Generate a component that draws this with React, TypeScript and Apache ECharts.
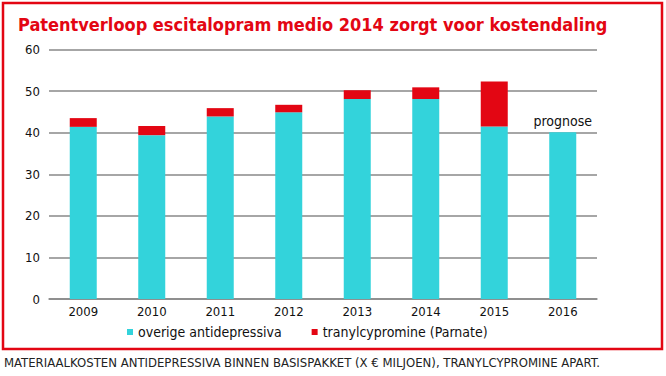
import React, { useEffect, useRef } from "react";
import * as echarts from "echarts";

const years = ["2009", "2010", "2011", "2012", "2013", "2014", "2015", "2016"];
const overige = [41.4, 39.4, 43.9, 44.9, 48.1, 48.1, 41.5, 40.1];
const tranyl = [2.1, 2.2, 2.0, 1.8, 2.1, 2.8, 10.8, 0];
const yTicks = [0, 10, 20, 30, 40, 50, 60];

const FONT = '"DejaVu Sans Condensed", "Liberation Sans Narrow", "Noto Sans", sans-serif';
const RED = "#e30613";
const CYAN = "#33d3db";

export default function App() {
  const ref = useRef<HTMLDivElement>(null);
  useEffect(() => {
    if (!ref.current) return;
    const chart = echarts.init(ref.current, null, { renderer: "svg" });
    chart.setOption({
      animation: false,
      backgroundColor: "#ffffff",
      textStyle: { fontFamily: FONT },
      title: {
        text: "Patentverloop escitalopram medio 2014 zorgt voor kostendaling",
        left: 13,
        top: 10,
        textStyle: { fontFamily: FONT, fontSize: 18, fontWeight: "bold", color: RED },
      },
      graphic: [
        {
          type: "rect",
          shape: { x: 3, y: 3, width: 659, height: 346 },
          style: { fill: "none", stroke: RED, lineWidth: 2.5 },
          z: 10,
        },
        {
          type: "text",
          left: 4,
          top: 356,
          style: {
            text: "MATERIAALKOSTEN ANTIDEPRESSIVA BINNEN BASISPAKKET (X € MILJOEN), TRANYLCYPROMINE APART.",
            font: `13px ${FONT}`,
            fill: "#222",
          },
        },
      ],
      legend: {
        left: 122,
        top: 320,
        itemWidth: 6,
        itemHeight: 6,
        itemGap: 30,
        icon: "rect",
        textStyle: { fontFamily: FONT, fontSize: 14, color: "#111" },
        data: ["overige antidepressiva", "tranylcypromine (Parnate)"],
      },
      grid: { left: 49, right: 69, top: 49.5, bottom: 77 },
      xAxis: {
        type: "category",
        data: years,
        axisTick: { show: false },
        axisLine: { lineStyle: { color: "#888", width: 1.5 } },
        axisLabel: { color: "#111", fontSize: 13, fontFamily: FONT, margin: 6 },
      },
      yAxis: {
        type: "value",
        min: yTicks[0],
        max: yTicks[yTicks.length - 1],
        interval: 10,
        axisLine: { show: false },
        axisTick: { show: false },
        splitLine: { lineStyle: { color: "#888", width: 1.5 } },
        axisLabel: { color: "#111", fontSize: 13, fontFamily: FONT, margin: 9 },
      },
      series: [
        {
          name: "overige antidepressiva",
          type: "bar",
          stack: "s",
          barWidth: 27,
          itemStyle: { color: CYAN },
          data: overige.map((v, i) =>
            i === overige.length - 1
              ? {
                  value: v,
                  label: {
                    show: true,
                    position: "top",
                    formatter: "prognose",
                    color: "#111",
                    fontSize: 14,
                    fontFamily: FONT,
                    distance: 4,
                  },
                }
              : v
          ),
        },
        {
          name: "tranylcypromine (Parnate)",
          type: "bar",
          stack: "s",
          barWidth: 27,
          itemStyle: { color: RED },
          data: tranyl,
        },
      ],
    });
    return () => chart.dispose();
  }, []);
  return <div ref={ref} style={{ width: 666, height: 376, position: "absolute", left: 0, top: 0 }} />;
}
